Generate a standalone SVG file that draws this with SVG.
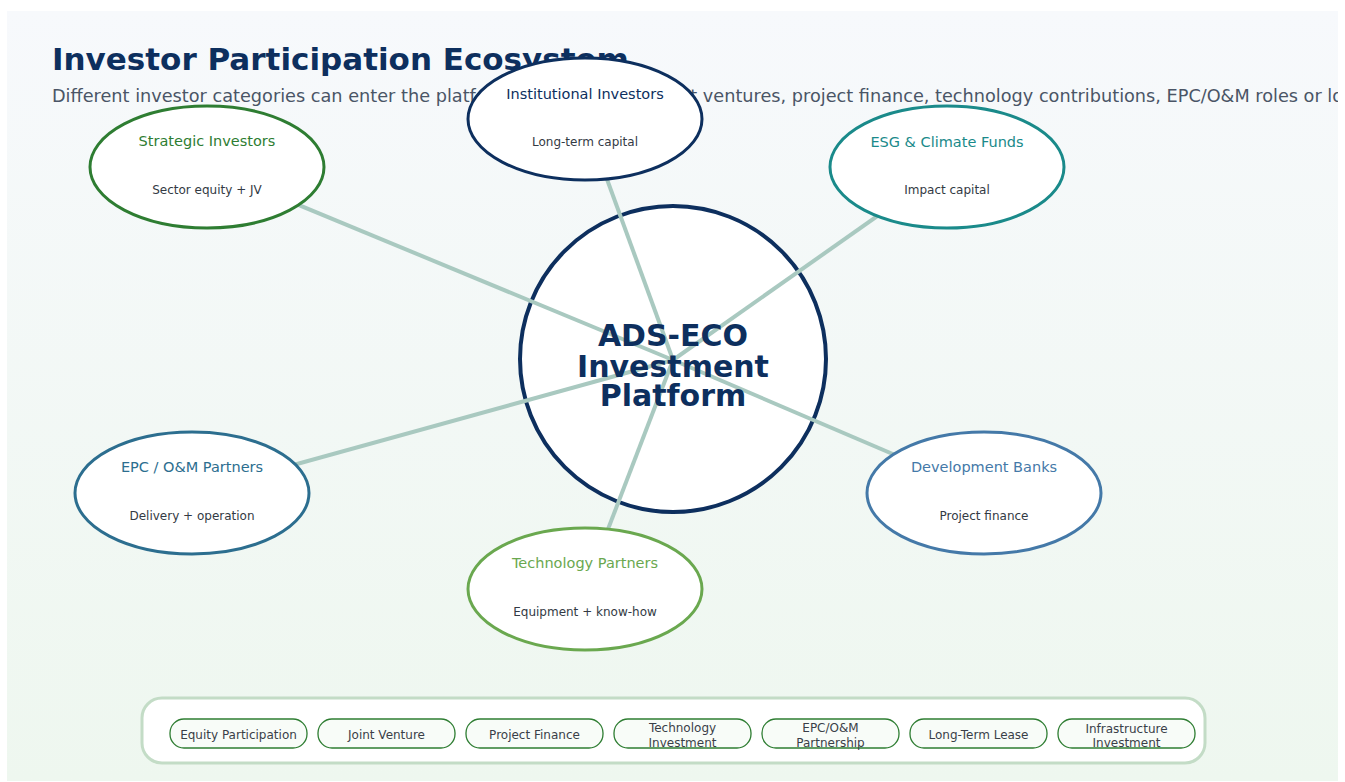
<svg xmlns="http://www.w3.org/2000/svg" width="1345" height="782" viewBox="0 0 1345 782">
<defs>
<linearGradient id="bg" x1="0" y1="0" x2="0" y2="1">
<stop offset="0" stop-color="#f7f9fc"/>
<stop offset="1" stop-color="#eef7ef"/>
</linearGradient>
<clipPath id="panelClip"><rect x="7" y="11" width="1331" height="770"/></clipPath>
</defs>
<style>
.node-e{fill:#ffffff;stroke-width:3}
.ntitle{font-family:"DejaVu Sans",sans-serif;font-size:14.5px;text-anchor:middle}
.nsub{font-family:"DejaVu Sans",sans-serif;font-size:12px;fill:#333a44;text-anchor:middle}
.conn{stroke:#a9c9c0;stroke-width:4;fill:none}
.pill{fill:#f8fcf8;stroke:#2e7d32;stroke-width:1.3}
.ptext{font-family:"DejaVu Sans",sans-serif;font-size:12px;fill:#3a3f48;text-anchor:middle}
.ctext{font-family:"DejaVu Sans",sans-serif;font-size:30px;font-weight:bold;fill:#0d2f5e;text-anchor:middle}
</style>
<rect x="0" y="0" width="1345" height="782" fill="#ffffff"/>
<rect x="7" y="11" width="1331" height="770" fill="url(#bg)"/>
<g id="header" clip-path="url(#panelClip)">
<text x="52" y="70" font-family="DejaVu Sans, sans-serif" font-size="31" font-weight="bold" fill="#0d2f5e">Investor Participation Ecosystem</text>
<text x="52" y="102" font-family="DejaVu Sans, sans-serif" font-size="17.7" fill="#4a5566">Different investor categories can enter the platform through equity, joint ventures, project finance, technology contributions, EPC/O&amp;M roles or long-term leases.</text>
</g>
<g id="center">
<circle cx="673" cy="359" r="153" fill="#ffffff" stroke="#0d2f5e" stroke-width="4"/>
</g>
<g id="connectors">
<line class="conn" x1="673" y1="360" x2="207" y2="167"/>
<line class="conn" x1="673" y1="360" x2="585" y2="119"/>
<line class="conn" x1="673" y1="360" x2="947" y2="167"/>
<line class="conn" x1="673" y1="360" x2="192" y2="493"/>
<line class="conn" x1="673" y1="360" x2="984" y2="493"/>
<line class="conn" x1="673" y1="360" x2="585" y2="589"/>
</g>
<g id="center-label">
<text class="ctext" x="673" y="346">ADS-ECO</text>
<text class="ctext" x="673" y="377">Investment</text>
<text class="ctext" x="673" y="406">Platform</text>
</g>
<g id="strategic">
<ellipse class="node-e" cx="207" cy="167" rx="117" ry="61" stroke="#2e7d32"/>
<text class="ntitle" x="207" y="146" fill="#2e7d32">Strategic Investors</text>
<text class="nsub" x="207" y="194">Sector equity + JV</text>
</g>
<g id="institutional">
<ellipse class="node-e" cx="585" cy="119" rx="117" ry="61" stroke="#0d2f5e"/>
<text class="ntitle" x="585" y="99" fill="#0d2f5e">Institutional Investors</text>
<text class="nsub" x="585" y="146">Long-term capital</text>
</g>
<g id="esg">
<ellipse class="node-e" cx="947" cy="167" rx="117" ry="61" stroke="#1a8a8a"/>
<text class="ntitle" x="947" y="147" fill="#1a8a8a">ESG &amp; Climate Funds</text>
<text class="nsub" x="947" y="194">Impact capital</text>
</g>
<g id="epc">
<ellipse class="node-e" cx="192" cy="493" rx="117" ry="61" stroke="#2c6e8f"/>
<text class="ntitle" x="192" y="472" fill="#2c6e8f">EPC / O&amp;M Partners</text>
<text class="nsub" x="192" y="520">Delivery + operation</text>
</g>
<g id="devbanks">
<ellipse class="node-e" cx="984" cy="493" rx="117" ry="61" stroke="#4479a8"/>
<text class="ntitle" x="984" y="472" fill="#4479a8">Development Banks</text>
<text class="nsub" x="984" y="520">Project finance</text>
</g>
<g id="technology">
<ellipse class="node-e" cx="585" cy="589" rx="117" ry="61" stroke="#6aa84f"/>
<text class="ntitle" x="585" y="568" fill="#6aa84f">Technology Partners</text>
<text class="nsub" x="585" y="616">Equipment + know-how</text>
</g>
<g id="modes">
<rect x="142" y="698" width="1063" height="65" rx="20" fill="#ffffff" stroke="#c3dcc6" stroke-width="3"/>
<rect class="pill" x="170" y="719" width="137" height="29" rx="14"/>
<text class="ptext" x="238.5" y="739">Equity Participation</text>
<rect class="pill" x="318" y="719" width="137" height="29" rx="14"/>
<text class="ptext" x="386.5" y="739">Joint Venture</text>
<rect class="pill" x="466" y="719" width="137" height="29" rx="14"/>
<text class="ptext" x="534.5" y="739">Project Finance</text>
<rect class="pill" x="614" y="719" width="137" height="29" rx="14"/>
<text class="ptext" x="682.5" y="732">Technology</text>
<text class="ptext" x="682.5" y="747">Investment</text>
<rect class="pill" x="762" y="719" width="137" height="29" rx="14"/>
<text class="ptext" x="830.5" y="732">EPC/O&amp;M</text>
<text class="ptext" x="830.5" y="747">Partnership</text>
<rect class="pill" x="910" y="719" width="137" height="29" rx="14"/>
<text class="ptext" x="978.5" y="739">Long-Term Lease</text>
<rect class="pill" x="1058" y="719" width="137" height="29" rx="14"/>
<text class="ptext" x="1126.5" y="733">Infrastructure</text>
<text class="ptext" x="1126.5" y="747">Investment</text>
</g>
</svg>
